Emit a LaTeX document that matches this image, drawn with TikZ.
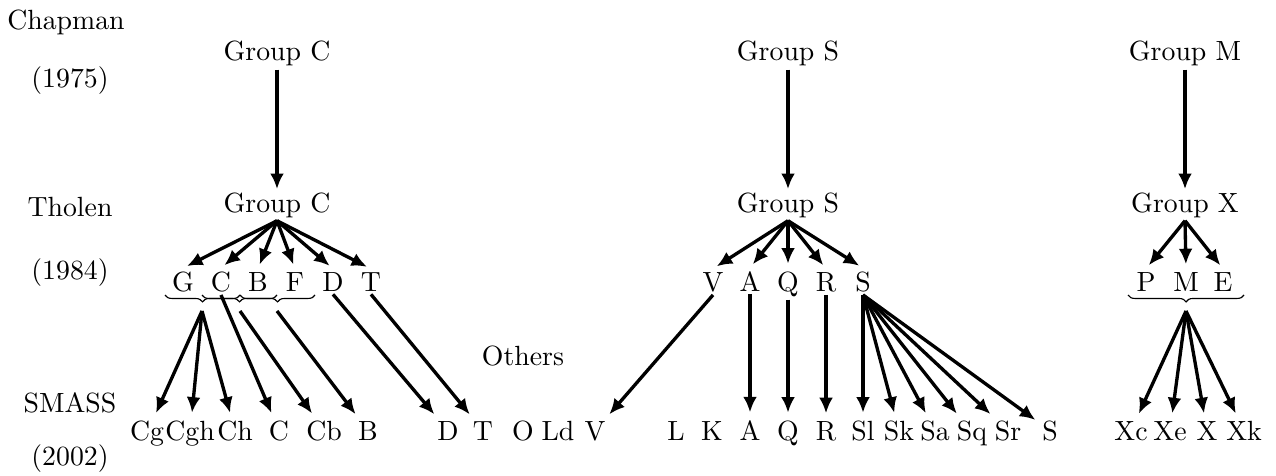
\documentclass[tikz,border=0pt]{standalone}
\usetikzlibrary{arrows.meta,decorations.pathreplacing}
\begin{document}
\begin{tikzpicture}[x=0.36pt,y=-0.36pt,
  lbl/.style={inner sep=1pt, anchor=base},
  arr/.style={line width=1.2pt, -{Latex[length=5.6pt,width=5pt]}},
  arrs/.style={arr, shorten >=1.6pt},
  brc/.style={decorate, decoration={brace, mirror, amplitude=2.5pt}, line width=0.4pt}]
\useasboundingbox (0,0) rectangle (1276,475);
% left labels
\node[lbl] (chap) at (66,30) {Chapman};
\node[lbl] (y75) at (70,88) {(1975)};
\node[lbl] (thol) at (70,216) {Tholen};
\node[lbl] (y84) at (70,279) {(1984)};
\node[lbl] (smass) at (70,412) {SMASS};
\node[lbl] (y02) at (70,465) {(2002)};
% groups
\node[lbl] (cC) at (277,61) {Group C};
\node[lbl] (cS) at (788,61) {Group S};
\node[lbl] (cM) at (1185,61) {Group M};
\node[lbl] (tC) at (277,212) {Group C};
\node[lbl] (tS) at (788,212) {Group S};
\node[lbl] (tX) at (1185,212) {Group X};
% Tholen classes
\node[lbl] (tG) at (183,291) {G};
\node[lbl] (tCc) at (221,291) {C};
\node[lbl] (tB) at (258,291) {B};
\node[lbl] (tF) at (295,291) {F};
\node[lbl] (tD) at (333,291) {D};
\node[lbl] (tT) at (371,291) {T};
\node[lbl] (tV) at (713,291) {V};
\node[lbl] (tA) at (750,291) {A};
\node[lbl] (tQ) at (788,291) {Q};
\node[lbl] (tR) at (826,291) {R};
\node[lbl] (tSs) at (863,291) {S};
\node[lbl] (tP) at (1146,291) {P};
\node[lbl] (tM) at (1186,291) {M};
\node[lbl] (tE) at (1223,291) {E};
\node[lbl] (oth) at (523,365) {Others};
% SMASS classes
\node[lbl] (sCg) at (147,440) {Cg};
\node[lbl] (sCgh) at (190,440) {Cgh};
\node[lbl] (sCh) at (235,440) {Ch};
\node[lbl] (sC) at (279,440) {C};
\node[lbl] (sCb) at (324,440) {Cb};
\node[lbl] (sB) at (368,440) {B};
\node[lbl] (sD) at (448,440) {D};
\node[lbl] (sT) at (483,440) {T};
\node[lbl] (sO) at (523,440) {O};
\node[lbl] (sLd) at (558,440) {Ld};
\node[lbl] (sV) at (595,440) {V};
\node[lbl] (sL) at (676,440) {L};
\node[lbl] (sK) at (712,440) {K};
\node[lbl] (sA) at (750,440) {A};
\node[lbl] (sQ) at (788,440) {Q};
\node[lbl] (sR) at (826,440) {R};
\node[lbl] (sSl) at (863,440) {Sl};
\node[lbl] (sSk) at (899,440) {Sk};
\node[lbl] (sSa) at (935,440) {Sa};
\node[lbl] (sSq) at (972,440) {Sq};
\node[lbl] (sSr) at (1008,440) {Sr};
\node[lbl] (sS) at (1050,440) {S};
\node[lbl] (sXc) at (1131,440) {Xc};
\node[lbl] (sXe) at (1170,440) {Xe};
\node[lbl] (sX) at (1207,440) {X};
\node[lbl] (sXk) at (1244,440) {Xk};
% braces
\draw[brc] (165,295) -- (240,295);
\draw[brc] (202,295) -- (277,295);
\draw[brc] (240,295) -- (315,295);
\draw[brc] (1128,295) -- (1244,295);
\coordinate (b1) at (202,311);
\coordinate (b2) at (240,311);
\coordinate (b3) at (277,311);
\coordinate (b4) at (1186,311);
% Chapman -> Tholen
\draw[arr] (cC) -- (tC);
\draw[arr] (cS) -- (tS);
\draw[arr] (cM) -- (tX);
% Tholen groups -> classes
\foreach \n in {tG,tCc,tB,tF,tD,tT} \draw[arrs] (tC.south) -- (\n.north);
\foreach \n in {tV,tA,tQ,tR,tSs} \draw[arrs] (tS.south) -- (\n.north);
\foreach \n in {tP,tM,tE} \draw[arrs] (tX.south) -- (\n.north);
% Tholen -> SMASS
\foreach \n in {sCg,sCgh,sCh} \draw[arrs] (b1) -- (\n);
\draw[arrs] (tCc.south) -- (sC);
\draw[arrs] (b2) -- (sCb);
\draw[arrs] (b3) -- (sB);
\draw[arrs] (tD.south) -- (sD);
\draw[arrs] (tT.south) -- (sT);
\draw[arrs] (tV.south) -- (sV);
\draw[arrs] (tA) -- (sA);
\draw[arrs] (tQ) -- (sQ);
\draw[arrs] (tR) -- (sR);
\foreach \n in {sSl,sSk,sSa,sSq,sSr,sS} \draw[arrs] (tSs.south) -- (\n);
\foreach \n in {sXc,sXe,sX,sXk} \draw[arrs] (b4) -- (\n);
\end{tikzpicture}
\end{document}
